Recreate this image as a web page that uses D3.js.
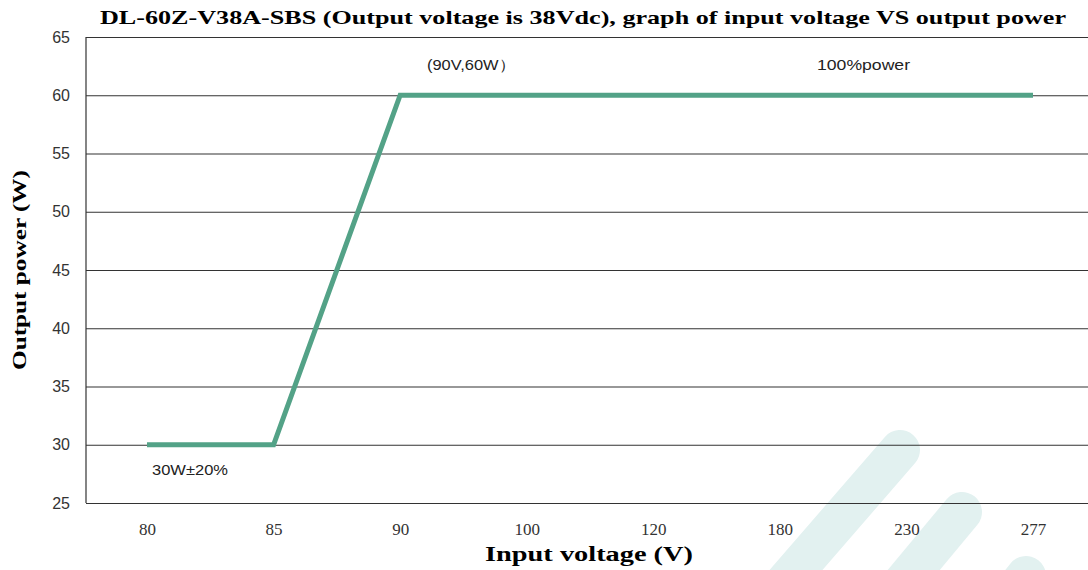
<!DOCTYPE html>
<html>
<head>
<meta charset="utf-8">
<script src="https://cdn.jsdelivr.net/npm/d3@7"></script>
<style>
  body { margin: 0; background: #fff; }
  svg { display: block; }
</style>
</head>
<body>
<div id="chart"></div>
<script>
// chart data
const voltages = ["80", "85", "90", "100", "120", "180", "230", "277"];
const power = [30, 30, 60, 60, 60, 60, 60, 60];
const yTicks = [25, 30, 35, 40, 45, 50, 55, 60, 65];

const W = 1088, H = 570;
const plot = { left: 86, right: 1088, top: 37, bottom: 503 };

const svg = d3.select("#chart").append("svg")
    .attr("width", W)
    .attr("height", H);

// faint watermark stripes in the lower right
const marks = svg.append("g").attr("stroke", "#e2f1f0").attr("stroke-linecap", "round").attr("stroke-width", 40);
[[900, 450, 770, 600], [962, 512, 868, 625], [1026, 576, 960, 660]].forEach(s => {
    marks.append("line").attr("x1", s[0]).attr("y1", s[1]).attr("x2", s[2]).attr("y2", s[3]);
});

const x = d3.scalePoint().domain(voltages).range([147, 1033]);
const y = d3.scaleLinear().domain([25, 65]).range([plot.bottom, plot.top]);

// horizontal grid + y labels
const yAxis = svg.append("g")
    .attr("transform", `translate(${plot.left},0)`)
    .call(d3.axisLeft(y).tickValues(yTicks).tickSize(-(plot.right - plot.left)).tickPadding(16));
yAxis.select(".domain").remove();
yAxis.selectAll(".tick line").attr("stroke", "#333").attr("stroke-width", 1.2);
yAxis.selectAll(".tick text")
    .attr("font-family", "Liberation Sans, Arial, sans-serif")
    .attr("font-size", 16)
    .attr("fill", "#333");

// left axis line
svg.append("line")
    .attr("x1", plot.left).attr("x2", plot.left)
    .attr("y1", plot.top).attr("y2", plot.bottom)
    .attr("stroke", "#333").attr("stroke-width", 1.2);

// x labels
const xAxis = svg.append("g")
    .attr("transform", `translate(0,${plot.bottom})`)
    .call(d3.axisBottom(x).tickSize(0).tickPadding(20));
xAxis.select(".domain").remove();
xAxis.selectAll(".tick text")
    .attr("font-family", "Liberation Serif, serif")
    .attr("font-size", 17)
    .attr("fill", "#333");

// power curve
const line = d3.line()
    .x((d, i) => x(voltages[i]))
    .y(d => y(d));
svg.append("path")
    .datum(power)
    .attr("d", line)
    .attr("fill", "none")
    .attr("stroke", "#53a287")
    .attr("stroke-width", 5)
    .attr("stroke-linejoin", "miter");

// annotations
const note = (txt, xx, yy, w) => svg.append("text")
    .attr("x", xx).attr("y", yy)
    .attr("font-family", "Liberation Sans, Arial, sans-serif")
    .attr("font-size", 15)
    .attr("fill", "#222")
    .attr("textLength", w)
    .attr("lengthAdjust", "spacingAndGlyphs")
    .text(txt);
note("(90V,60W）", 427, 70, 88);
note("100%power", 817, 70, 93);
note("30W±20%", 152, 475, 76);

// titles
svg.append("text")
    .attr("x", 100).attr("y", 24)
    .attr("font-family", "Liberation Serif, serif")
    .attr("font-weight", "bold")
    .attr("font-size", 19)
    .attr("textLength", 966)
    .attr("lengthAdjust", "spacingAndGlyphs")
    .text("DL-60Z-V38A-SBS (Output voltage is 38Vdc), graph of input voltage VS output power");

svg.append("text")
    .attr("x", 589).attr("y", 561)
    .attr("text-anchor", "middle")
    .attr("font-family", "Liberation Serif, serif")
    .attr("font-weight", "bold")
    .attr("font-size", 20)
    .attr("textLength", 208)
    .attr("lengthAdjust", "spacingAndGlyphs")
    .text("Input voltage (V)");

svg.append("text")
    .attr("transform", "translate(26,270) rotate(-90)")
    .attr("text-anchor", "middle")
    .attr("font-family", "Liberation Serif, serif")
    .attr("font-weight", "bold")
    .attr("font-size", 19)
    .attr("textLength", 200)
    .attr("lengthAdjust", "spacingAndGlyphs")
    .text("Output power (W)");
</script>
</body>
</html>
